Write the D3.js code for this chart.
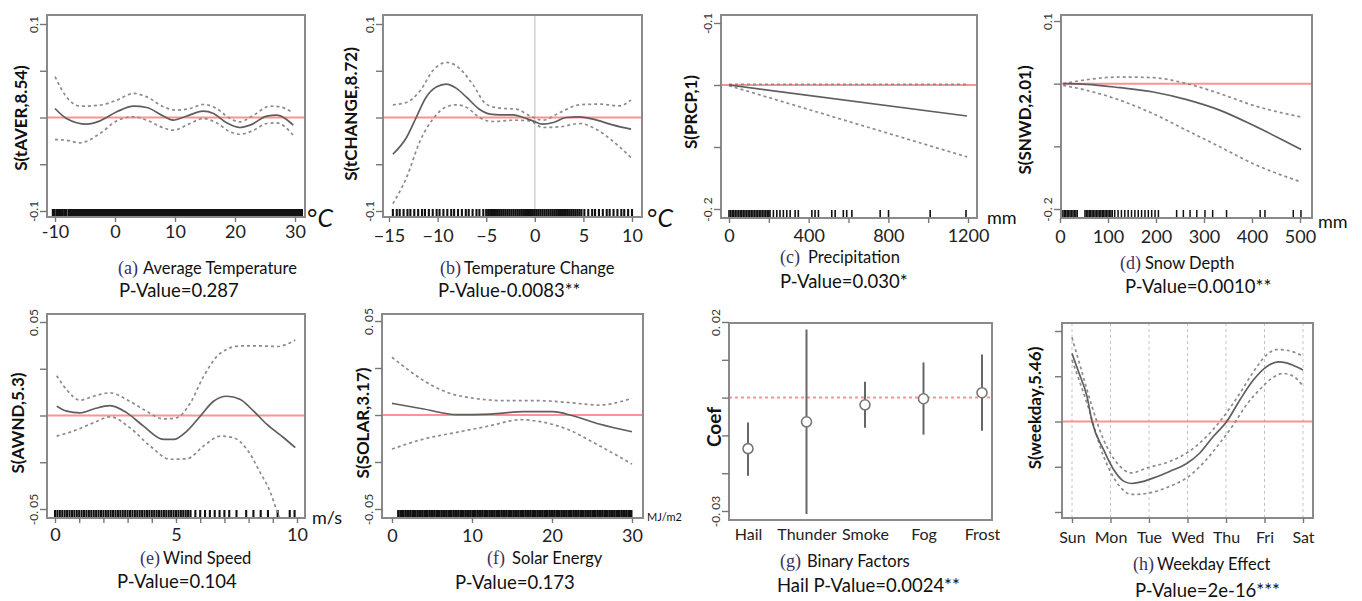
<!DOCTYPE html>
<html>
<head>
<meta charset="utf-8">
<script src="https://cdn.jsdelivr.net/npm/d3@7"></script>
<style>
body { margin: 0; background: #fff; }
text { font-family: Lato, "Open Sans", sans-serif; }
</style>
</head>
<body>
<div id="chart"></div>
<script>
// (a) average temperature, smooth term + 2se band
var aFit = [[-10,0.0096],[-8.1,-0.001],[-4.7,-0.0071],[-2.5,-0.0036],[0.3,0.0061],[3.1,0.0121],[5.3,0.0107],[8.1,0.0014],[9.7,-0.0029],[11.9,0.0014],[14.7,0.0068],[16.4,0.0043],[18.6,-0.0057],[20.8,-0.0107],[22.5,-0.0082],[25.3,0.0014],[26.9,0.0025],[28.6,-0.0021],[29.7,-0.0082]];
var aUp = [[-10,0.0436],[-8.1,0.0221],[-5.8,0.0121],[-2.5,0.0132],[0.3,0.0186],[3.1,0.0257],[5.3,0.0221],[8.1,0.0114],[10.3,0.0079],[12.5,0.0096],[14.7,0.0139],[16.9,0.0096],[19.2,-0.0011],[20.8,-0.0046],[23.1,0.0025],[25.8,0.0121],[27.5,0.0114],[29.7,0.005]];
var aLo = [[-10,-0.0236],[-8.1,-0.0243],[-5.8,-0.0271],[-2.5,-0.0171],[0.3,-0.0036],[3.1,0.0007],[5.3,-0.0029],[8.1,-0.0111],[9.7,-0.0136],[12.5,-0.0064],[14.7,-0.0011],[16.9,-0.0057],[19.2,-0.0154],[20.8,-0.0179],[23.1,-0.0136],[25.3,-0.0064],[26.9,-0.0057],[29.7,-0.0189]];
var aRug = [-10.2,-9.5,-8.9,-8.3,-7.6,-7,-6.4,-5.9,-5.4,-5,-4.5,-4,-3.5,-3,-2.5,-2,-1.5,-1,-0.5,0,0.5,1,1.5,2,2.5,3,3.5,4,4.5,5,5.5,6,6.5,7,7.5,8,8.5,9,9.5,10,10.5,11,11.5,12,12.5,13,13.5,14,14.5,15,15.5,16,16.5,17,17.5,18,18.5,19,19.5,20,20.5,21,21.5,22,22.5,23,23.5,24,24.5,25,25.5,26,26.5,27,27.5,28,28.5,29,29.5,30,30.5,31];

// (b) temperature change
var bFit = [[-14.6,-0.0393],[-13.2,-0.0214],[-12.2,0],[-11.2,0.0214],[-10.1,0.0329],[-9.1,0.0357],[-8.1,0.0314],[-7,0.0214],[-5.7,0.0089],[-4.6,0.0036],[-3.6,0.0029],[-2.2,0.0029],[-1.2,0],[-0.2,-0.0036],[0.8,-0.0071],[1.9,-0.0054],[3.2,0],[4.6,0.0007],[6,-0.0018],[8,-0.0079],[9.9,-0.0125]];
var bUp = [[-14.6,0.0136],[-13.2,0.0161],[-11.8,0.0286],[-10.5,0.05],[-9.1,0.0589],[-8.1,0.0554],[-6.4,0.0357],[-5,0.0143],[-3.6,0.01],[-1.9,0.0089],[-0.5,0.0018],[0.8,-0.0029],[2.6,0.0054],[4.6,0.0136],[6.7,0.0143],[8.7,0.0125],[9.9,0.0186]];
var bLo = [[-14.6,-0.0921],[-13.2,-0.0643],[-11.8,-0.025],[-10.5,-0.0018],[-9.1,0.0114],[-8.1,0.0136],[-7,0.0107],[-5.7,0],[-4.3,-0.0043],[-2.2,-0.0029],[-0.5,-0.0036],[0.8,-0.0107],[2.6,-0.01],[4.6,-0.0064],[6.3,-0.0125],[8,-0.025],[9.9,-0.0429]];
var bRug = [-14.6,-14.2,-13.9,-13.5,-13.1,-12.8,-12.4,-12,-11.6,-11.3,-10.9,-10.5,-10.1,-9.8,-9.4,-9,-8.6,-8.3,-7.9,-7.5,-7.1,-6.8,-6.4,-6,-5.7,-5.3,-5,-4.8,-4.6,-4.4,-4.2,-4,-3.8,-3.6,-3.4,-3.2,-3,-2.8,-2.6,-2.4,-2.2,-2,-1.8,-1.6,-1.4,-1.2,-1,-0.8,-0.6,-0.4,-0.2,0,0.2,0.4,0.6,0.8,1,1.2,1.4,1.6,1.8,2,2.2,2.4,2.6,2.8,3,3.2,3.4,3.6,3.8,4,4.2,4.4,4.6,4.8,5.1,5.5,5.9,6.2,6.6,7,7.4,7.7,8.1,8.5,8.9,9.2,9.6,10];

// (c) precipitation
var cFit = [[0,0],[1195,-0.05]];
var cUp = [[0,0.001],[600,0.001],[1195,0.001]];
var cLo = [[0,-0.001],[1195,-0.116]];
var cRug = [0,8,16,24,32,40,48,56,64,72,80,88,96,104,112,120,128,136,144,152,160,168,176,184,192,200,206,223,240,256,273,290,307,332,348,416,432,449,516,533,574,591,617,759,801,1010,1190];

// (d) snow depth
var dFit = [[6.6,0],[55.6,-0.001],[125.4,-0.0064],[194.1,-0.0133],[263.9,-0.0255],[333.7,-0.0426],[402.5,-0.0665],[458.7,-0.0878],[502.5,-0.105]];
var dUp = [[6.6,0],[55.6,0.0064],[125.4,0.0106],[194.1,0.0096],[263.9,0],[333.7,-0.016],[402.5,-0.0346],[502.5,-0.0532]];
var dLo = [[6.6,-0.0027],[55.6,-0.0106],[125.4,-0.0266],[194.1,-0.0479],[263.9,-0.0745],[333.7,-0.101],[402.5,-0.1277],[502.5,-0.157]];
var dRug = [6,9,12,15,18,21,24,27,30,33,36,52,55,58,61,64,67,70,73,76,79,82,85,88,91,94,97,100,103,106,109,114,121,128,135,142,149,156,163,170,177,184,191,198,205,243,257,271,285,302,318,347,417,427,486,502];

// (e) wind speed
var eFit = [[0.07,0.005],[0.48,0.0023],[1.03,0.0014],[1.59,0.0035],[2.28,0.0053],[2.97,0.0014],[3.66,-0.0057],[4.48,-0.0128],[4.9,-0.0128],[5.45,-0.0083],[6,-0.0004],[6.55,0.0076],[7.1,0.0103],[7.66,0.0085],[8.21,0.0023],[8.76,-0.0048],[9.45,-0.0119],[9.93,-0.0172]];
var eUp = [[0.07,0.0213],[0.48,0.0138],[1.03,0.0082],[1.59,0.0103],[2.28,0.0121],[2.97,0.0085],[3.66,0.0032],[4.48,-0.0018],[5.03,-0.0012],[5.59,0.0067],[6.14,0.0209],[6.83,0.0333],[7.66,0.0372],[8.48,0.0372],[9.17,0.0369],[9.93,0.0404]];
var eLo = [[0.07,-0.011],[0.76,-0.0083],[1.59,-0.0039],[2.28,-0.0007],[3.1,-0.0066],[3.93,-0.0163],[4.76,-0.0234],[5.45,-0.0231],[6.14,-0.0163],[6.83,-0.011],[7.38,-0.0119],[7.93,-0.0181],[8.48,-0.0305],[8.9,-0.0411],[9.17,-0.051],[9.5,-0.062]];
var eRug = [0,0.1,0.2,0.3,0.4,0.5,0.6,0.7,0.8,0.9,1,1.1,1.2,1.3,1.4,1.5,1.6,1.7,1.8,1.9,2,2.1,2.2,2.3,2.4,2.5,2.6,2.7,2.8,2.9,3,3.1,3.2,3.3,3.4,3.5,3.6,3.7,3.8,3.9,4,4.1,4.2,4.3,4.4,4.5,4.6,4.7,4.8,4.9,5,5.1,5.2,5.3,5.4,5.5,5.6,5.8,6,6.2,6.4,6.6,6.8,7,7.2,7.5,7.9,8.2,8.5,8.8,9.2,9.7,9.9];

// (f) solar energy
var fFit = [[0,0.0062],[3.95,0.0032],[8.1,0.0002],[12.3,0.0005],[16.4,0.0018],[20.1,0.0018],[22.6,-0.0004],[25.9,-0.0048],[30,-0.0089]];
var fUp = [[0,0.0307],[1.87,0.0245],[3.95,0.0183],[6.85,0.0121],[10.2,0.0089],[14.3,0.0076],[18.5,0.0076],[22.6,0.0064],[25.9,0.0053],[30,0.0089]];
var fLo = [[0,-0.0181],[3.95,-0.0128],[8.1,-0.0092],[12.3,-0.0057],[16,-0.0025],[18.5,-0.0035],[21.8,-0.0074],[25.9,-0.0163],[30,-0.0261]];
var fRug = [0.8,1.1,1.4,1.7,2,2.3,2.6,2.9,3.2,3.5,3.8,4.1,4.4,4.7,5,5.3,5.6,5.9,6.2,6.5,6.8,7.1,7.4,7.7,8,8.3,8.6,8.9,9.2,9.5,9.8,10.1,10.4,10.7,11,11.3,11.6,11.9,12.2,12.5,12.8,13.1,13.4,13.7,14,14.3,14.6,14.9,15.2,15.5,15.8,16.1,16.4,16.7,17,17.3,17.6,17.9,18.2,18.5,18.8,19.1,19.4,19.7,20,20.3,20.6,20.9,21.2,21.5,21.8,22.1,22.4,22.7,23,23.3,23.6,23.9,24.2,24.5,24.8,25.1,25.4,25.7,26,26.3,26.6,26.9,27.2,27.5,27.8,28.1,28.4,28.7,29,29.3,29.6,29.9];

// (g) binary factors
var factors = ['Hail','Thunder','Smoke','Fog','Frost'];
var coef = [-0.0135,-0.0064,-0.0019,-0.0003,0.0013];
var coefHi = [-0.0066,0.018,0.0042,0.0093,0.0114];
var coefLo = [-0.0207,-0.0308,-0.008,-0.0098,-0.0088];

// (h) weekday, x = day index
var days = ['Sun','Mon','Tue','Wed','Thu','Fri','Sat'];
var hFit = [[0,0.0751],[0.17,0.0549],[0.39,0.0275],[0.52,0],[0.82,-0.0311],[1.08,-0.0531],[1.34,-0.0659],[1.55,-0.0685],[1.77,-0.067],[2.12,-0.0623],[2.55,-0.0549],[2.98,-0.0465],[3.32,-0.0348],[3.67,-0.0165],[4.02,0],[4.36,0.0238],[4.71,0.0458],[5.05,0.0604],[5.35,0.0659],[5.57,0.0648],[5.83,0.0604],[6,0.0568]];
var hUp = [[0,0.0927],[0.22,0.0604],[0.52,0.0165],[0.82,-0.0201],[1.17,-0.0458],[1.55,-0.0568],[1.94,-0.0513],[2.55,-0.044],[2.98,-0.0348],[3.41,-0.0201],[3.84,0],[4.36,0.0311],[4.71,0.0549],[5.05,0.0733],[5.31,0.0795],[5.57,0.0788],[6,0.0722]];
var hLo = [[0,0.0678],[0.39,0.0201],[0.82,-0.0385],[1.17,-0.0678],[1.55,-0.0806],[1.94,-0.0795],[2.55,-0.0714],[2.98,-0.0623],[3.41,-0.0458],[3.84,-0.0238],[4.19,-0.0037],[4.53,0.0183],[4.88,0.0355],[5.22,0.0487],[5.48,0.0531],[5.74,0.0502],[6,0.0392]];

// tick values / labels
var ticks01 = [-0.1,-0.05,0,0.05,0.1], labs01 = ['-0.1','','','','0.1'];
var ticksCD = [0.1,0,-0.1,-0.2], labsC = ['-0.1','','','-0. 2'], labsD = ['0.1','','','-0. 2'];
var ticks005 = [-0.05,-0.025,0,0.025,0.05], labs005 = ['-0. 05','','','','0. 05'];
var ticksG = [-0.03,-0.02,-0.01,0,0.01,0.02], labsG = ['-0. 03','','','','','0. 02'];
var xTicksA = [-10,0,10,20,30], xTicksB = [-15,-10,-5,0,5,10];
var xTicksC = [0,200,400,600,800,1000,1200], xLabsC = ['0','','400','','800','','1200'];
var xTicksD = [0,100,200,300,400,500];
var xTicksE = [0,1,2,3,4,5,6,7,8,9,10], xLabsE = ['0','','','','','5','','','','','10'];
var xTicksF = [0,10,20,30];

var red = 'rgba(255,110,110,0.75)';
var svg = d3.select('#chart').append('svg').attr('width', 1362).attr('height', 601);
var defs = svg.append('defs');

function leftAxis(g, y, b, vals, labs) {
  var ax = g.append('g').attr('transform', 'translate(' + b[0] + ',0)')
    .call(d3.axisLeft(y).tickValues(vals).tickSize(7).tickFormat((d, i) => labs ? labs[i] : ''));
  ax.select('.domain').remove();
  ax.selectAll('line').attr('stroke', '#777').attr('stroke-width', 1.4);
  ax.selectAll('text').attr('x', 0).attr('dy', 0).attr('text-anchor', 'middle')
    .attr('transform', 'translate(-9,0) rotate(-90)')
    .attr('font-size', 12).attr('font-family', 'Lato').attr('fill', '#333');
}

function bottomAxis(g, x, b, vals, labs, pad, size, ts) {
  var ax = g.append('g').attr('transform', 'translate(0,' + b[3] + ')')
    .call(d3.axisBottom(x).tickValues(vals).tickSize(ts).tickPadding(pad).tickFormat((d, i) => labs ? labs[i] : d));
  ax.select('.domain').remove();
  ax.selectAll('line').attr('stroke', '#777').attr('stroke-width', 1.4);
  ax.selectAll('text').attr('font-size', size).attr('font-family', 'Lato').attr('fill', '#222');
  return ax;
}

function titles(p) {
  var t = svg.append('text').attr('y', p.ty).attr('font-size', 16.5).attr('fill', '#111');
  t.append('tspan').attr('x', p.tx).attr('font-size', 18).attr('font-family', '"Liberation Serif", serif').attr('fill', '#3a3060').text(p.tag);
  t.append('tspan').attr('x', p.sx).text(p.title);
  svg.append('text').attr('x', p.px).attr('y', p.py).attr('font-size', 18.5).attr('fill', '#111').text(p.pval);
  svg.append('text').attr('transform', 'translate(' + p.lx + ',' + p.ly + ') rotate(-90)')
    .attr('text-anchor', 'middle').attr('font-size', p.lsize || 17).attr('font-weight', 'bold').attr('fill', '#111').text(p.ylab);
}

function frame(g, b) {
  g.append('rect').attr('x', b[0]).attr('y', b[1]).attr('width', b[2] - b[0]).attr('height', b[3] - b[1])
    .attr('fill', 'none').attr('stroke', '#8a8a8a').attr('stroke-width', 2);
}

function smooth(p) {
  var b = p.box;
  var x = d3.scaleLinear().domain(p.xd).range(p.xr);
  var y = d3.scaleLinear().domain(p.yd).range(p.yr);
  var g = svg.append('g');
  defs.append('clipPath').attr('id', 'clip' + p.id).append('rect')
    .attr('x', b[0]).attr('y', b[1]).attr('width', b[2] - b[0]).attr('height', b[3] - b[1]);
  var inner = g.append('g').attr('clip-path', 'url(#clip' + p.id + ')');

  if (p.grid) inner.selectAll('.grid').data(p.grid).enter().append('line')
    .attr('x1', d => x(d)).attr('x2', d => x(d)).attr('y1', b[1]).attr('y2', b[3])
    .attr('stroke', '#c4c4c4').attr('stroke-dasharray', '3,3');
  if (p.vline != null) inner.append('line').attr('x1', x(p.vline)).attr('x2', x(p.vline))
    .attr('y1', b[1]).attr('y2', b[3]).attr('stroke', '#d2d2d2').attr('stroke-width', 1.5);
  if (p.rug) inner.selectAll('.rug').data(p.rug).enter().append('line')
    .attr('x1', d => x(d)).attr('x2', d => x(d)).attr('y1', b[3]).attr('y2', b[3] - 8)
    .attr('stroke', '#111').attr('stroke-width', p.rugW);

  inner.append('line').attr('x1', b[0]).attr('x2', b[2]).attr('y1', y(0)).attr('y2', y(0))
    .attr('stroke', red).attr('stroke-width', 2);

  var line = d3.line().x(d => x(d[0])).y(d => y(d[1])).curve(d3.curveMonotoneX);
  [p.up, p.lo].forEach(s => inner.append('path').attr('d', line(s)).attr('fill', 'none')
    .attr('stroke', '#8c8c8c').attr('stroke-width', 1.7).attr('stroke-dasharray', '3,3'));
  inner.append('path').attr('d', line(p.fit)).attr('fill', 'none')
    .attr('stroke', '#5e5e5e').attr('stroke-width', 1.7);

  frame(g, b);
  leftAxis(g, y, b, p.yTicks, p.yLabs);
  bottomAxis(g, x, b, p.xTicks, p.xLabs, p.xPad, p.xSize || 18, 5);

  if (p.unit) {
    var u = svg.append('text').attr('x', p.ux).attr('y', p.uy).attr('font-size', p.usize).attr('fill', '#111');
    if (p.unit == '°C') {
      u.attr('font-family', '"Liberation Serif", serif');
      u.append('tspan').text('°');
      u.append('tspan').attr('font-style', 'italic').text('C');
    } else u.text(p.unit);
  }
  titles(p);
}

smooth({id: 'a', box: [47,15,305,217], xd: [-10,30], xr: [55,295], yd: [-0.1,0.1], yr: [211,24],
  fit: aFit, up: aUp, lo: aLo, rug: aRug, rugW: 4,
  yTicks: ticks01, yLabs: labs01, xTicks: xTicksA, xPad: 3,
  unit: '°C', ux: 307, uy: 227, usize: 25,
  tag: '(a)', tx: 118, sx: 143, title: 'Average Temperature', ty: 274, pval: 'P-Value=0.287', px: 119, py: 297,
  ylab: 'S(tAVER,8.54)', lx: 27, ly: 118});

smooth({id: 'b', box: [383,15,642,217], xd: [-15,10], xr: [389,632], yd: [-0.1,0.1], yr: [211,24],
  fit: bFit, up: bUp, lo: bLo, rug: bRug, rugW: 2.1, vline: 0,
  yTicks: ticks01, yLabs: labs01, xTicks: xTicksB, xLabs: ['\u221215','\u221210','\u22125','0','5','10'], xPad: 7,
  unit: '°C', ux: 647, uy: 227, usize: 25,
  tag: '(b)', tx: 440, sx: 464, title: 'Temperature Change', ty: 274, pval: 'P-Value-0.0083**', px: 438, py: 297,
  ylab: 'S(tCHANGE,8.72)', lx: 357, ly: 114});

smooth({id: 'c', box: [721,15,977,218], xd: [0,1200], xr: [729,968], yd: [0.1,-0.2], yr: [23,209],
  fit: cFit, up: cUp, lo: cLo, rug: cRug, rugW: 1.6,
  yTicks: ticksCD, yLabs: labsC, xTicks: xTicksC, xLabs: xLabsC, xPad: 6,
  unit: 'mm', ux: 987, uy: 224, usize: 18,
  tag: '(c)', tx: 780, sx: 808, title: 'Precipitation', ty: 263, pval: 'P-Value=0.030*', px: 780, py: 288,
  ylab: 'S(PRCP,1)', lx: 697, ly: 112});

smooth({id: 'd', box: [1061,15,1312,218], xd: [0,500], xr: [1060,1300], yd: [0.1,-0.2], yr: [21,209],
  fit: dFit, up: dUp, lo: dLo, rug: dRug, rugW: 1.5,
  yTicks: ticksCD, yLabs: labsD, xTicks: xTicksD, xPad: 7,
  unit: 'mm', ux: 1318, uy: 228, usize: 18,
  tag: '(d)', tx: 1120, sx: 1145, title: 'Snow Depth', ty: 269, pval: 'P-Value=0.0010**', px: 1125, py: 293,
  ylab: 'S(SNWD,2.01)', lx: 1031, ly: 120});

smooth({id: 'e', box: [47,314,305,518], xd: [0,10], xr: [55,297], yd: [-0.05,0.05], yr: [509,322],
  fit: eFit, up: eUp, lo: eLo, rug: eRug, rugW: 2.1,
  yTicks: ticks005, yLabs: labs005, xTicks: xTicksE, xLabs: xLabsE, xPad: 5,
  unit: 'm/s', ux: 312, uy: 524, usize: 18,
  tag: '(e)', tx: 140, sx: 163, title: 'Wind Speed', ty: 564, pval: 'P-Value=0.104', px: 117, py: 588,
  ylab: 'S(AWND,5.3)', lx: 24, ly: 423});

smooth({id: 'f', box: [382,314,643,518], xd: [0,30], xr: [392,632], yd: [-0.05,0.05], yr: [509,321],
  fit: fFit, up: fUp, lo: fLo, rug: fRug, rugW: 2.6,
  yTicks: ticks005, yLabs: labs005, xTicks: xTicksF, xPad: 6,
  unit: 'MJ/m2', ux: 647, uy: 521, usize: 11,
  tag: '(f)', tx: 487, sx: 512, title: 'Solar Energy', ty: 564, pval: 'P-Value=0.173', px: 455, py: 589,
  ylab: 'S(SOLAR,3.17)', lx: 369, ly: 423});

smooth({id: 'h', box: [1062,323,1313,518], xd: [0,6], xr: [1072,1303], yd: [-0.1,0.1], yr: [512,331],
  fit: hFit, up: hUp, lo: hLo, grid: d3.range(days.length),
  yTicks: ticks01, yLabs: null, xTicks: d3.range(days.length), xLabs: days, xPad: 9, xSize: 16,
  tag: '(h)', tx: 1133, sx: 1157, title: 'Weekday Effect', ty: 570, pval: 'P-Value=2e-16***', px: 1135, py: 597,
  ylab: 'S(weekday,5.46)', lx: 1041, ly: 408});

// (g) coefficient plot
(function () {
  var b = [729,323,992,520];
  var x = d3.scalePoint().domain(factors).range([748,982]);
  var y = d3.scaleLinear().domain([-0.03,0.02]).range([511,322]);
  var g = svg.append('g');
  g.append('line').attr('x1', b[0]).attr('x2', b[2]).attr('y1', y(0)).attr('y2', y(0))
    .attr('stroke', red).attr('stroke-width', 2).attr('stroke-dasharray', '3,3');
  g.selectAll('.ci').data(factors).enter().append('line')
    .attr('x1', d => x(d)).attr('x2', d => x(d))
    .attr('y1', (d, i) => y(coefHi[i])).attr('y2', (d, i) => y(coefLo[i]))
    .attr('stroke', '#666').attr('stroke-width', 2);
  g.selectAll('.pt').data(factors).enter().append('circle')
    .attr('cx', d => x(d)).attr('cy', (d, i) => y(coef[i])).attr('r', 5)
    .attr('fill', '#fff').attr('stroke', '#777').attr('stroke-width', 1.6);
  frame(g, b);
  leftAxis(g, y, b, ticksG, labsG);
  bottomAxis(g, x, b, factors, null, 9, 16, 0);
  titles({tag: '(g)', tx: 780, sx: 807, title: 'Binary Factors', ty: 567, pval: 'Hail P-Value=0.0024**', px: 777, py: 592,
    ylab: 'Coef', lx: 721, ly: 427, lsize: 19});
})();
</script>
</body>
</html>
